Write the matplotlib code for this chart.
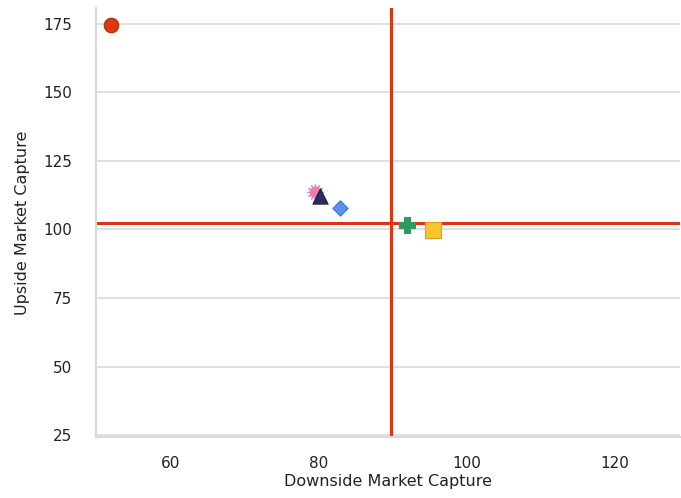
import matplotlib
matplotlib.use("Agg")
import matplotlib.pyplot as plt

downside = [52.0, 79.6, 80.2, 82.9, 92.0, 95.5]
upside = [174.5, 113.5, 112.0, 107.7, 101.5, 99.6]
markers = ["o", (12, 1, 0), "^", "D", "P", "s"]
colors = ["#d9390c", "#e87fb0", "#2b2d5e", "#5b8ff0", "#2e9a5e", "#f8c531"]
edges = ["#b02a05", "#e87fb0", "#1e1f45", "#3f6fd0", "#2e9a5e", "#d9a010"]
sizes = [110, 130, 120, 60, 130, 120]
vline_x = 89.8
hline_y = 102.2
xticks = [60, 80, 100, 120]
yticks = [25, 50, 75, 100, 125, 150, 175]

fig = plt.figure(figsize=(6.81, 4.98), dpi=100)
ax = fig.add_axes([0.141, 0.1225, 0.857, 0.862])
ax.set_xlim(50, 128.8)
ax.set_ylim(24.3, 180.8)
ax.set_yticks(yticks)
ax.set_xticks(xticks)
ax.grid(axis="y", color="#d9d9d9", linewidth=1.2)
ax.set_axisbelow(True)
for s in ["top", "right"]:
    ax.spines[s].set_visible(False)
for s in ["left", "bottom"]:
    ax.spines[s].set_color("#d9d9d9")
    ax.spines[s].set_linewidth(1.5)
ax.tick_params(axis="both", length=0, labelsize=11, colors="#222222")
ax.tick_params(axis="x", pad=14)
ax.tick_params(axis="y", pad=17)

ax.axvline(vline_x, color="#dc3510", linewidth=2.2, zorder=2)
ax.axhline(hline_y, color="#dc3510", linewidth=2.2, zorder=2)

for x, y, m, c, e, s in zip(downside, upside, markers, colors, edges, sizes):
    ax.scatter([x], [y], marker=m, s=s, color=c, edgecolors=e, linewidths=0.8, zorder=3)

ax.set_xlabel("Downside Market Capture", fontsize=11.5, color="#222222", labelpad=2)
ax.set_ylabel("Upside Market Capture", fontsize=11.5, color="#222222", labelpad=10)

fig.savefig("out.png", dpi=100)
